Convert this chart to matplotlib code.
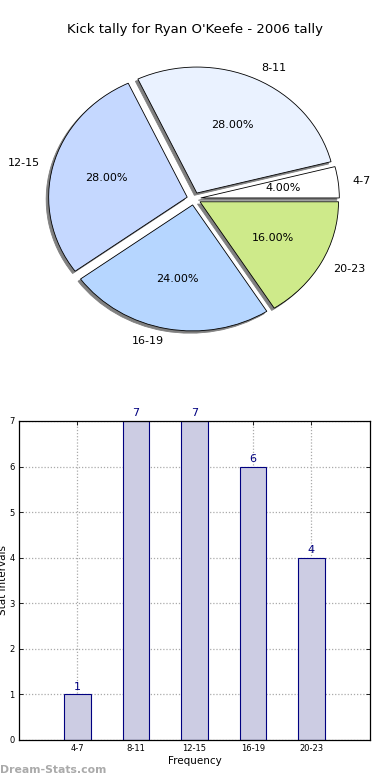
import matplotlib
matplotlib.use("Agg")
from matplotlib import pyplot as plt

# data
categories = ["4-7", "8-11", "12-15", "16-19", "20-23"]
counts = [1, 7, 7, 6, 4]
pie_colors = ["#ffffff", "#eaf2ff", "#c5d8ff", "#b6d6ff", "#ceea8a"]
y_ticks = [0, 1, 2, 3, 4, 5, 6, 7]

fig = plt.figure(figsize=(3.9, 7.8), dpi=100)

# pie on top - old style, not forced round
ax1 = fig.add_axes([0.0532, 0.5433, 0.888, 0.4038])
wedges, texts, autotexts = ax1.pie(
    counts, labels=categories, colors=pie_colors, explode=[0.05] * len(counts),
    autopct="%1.2f%%", shadow={"ox": -0.013, "oy": -0.013, "facecolor": "#808080",
                               "edgecolor": "#808080", "alpha": 1},
    startangle=0, counterclock=True, frame=False,
    wedgeprops={"edgecolor": "black", "linewidth": 0.6},
    textprops={"fontsize": 8})
ax1.set_aspect("auto")
ax1.set_xlim(-1.25, 1.25)
ax1.set_ylim(-1.25, 1.25)
ax1.axis("off")
fig.text(0.5, 0.962, "Kick tally for Ryan O'Keefe - 2006 tally", ha="center",
         va="center", fontsize=9.5)

# bar chart below
ax2 = fig.add_axes([0.0487, 0.0513, 0.9, 0.409])
x = list(range(len(categories)))
ax2.bar(x, counts, width=0.46, color="#cccce3", edgecolor="#000080", linewidth=0.8,
        zorder=2)
for xi, c in zip(x, counts):
    ax2.text(xi, c + 0.06, str(c), ha="center", va="bottom", color="#000080",
             fontsize=8)
ax2.set_xlim(-1, 5)
ax2.set_ylim(0, 7)
ax2.set_xticks(x)
ax2.set_xticklabels(categories)
ax2.set_yticks(y_ticks)
ax2.tick_params(axis="both", direction="in", labelsize=6, top=True, right=True,
                length=3, width=0.6, pad=3)
ax2.grid(True, linestyle=(0, (1, 1.5)), color="#aaaaaa", linewidth=0.9, zorder=0)
ax2.set_axisbelow(True)
ax2.set_xlabel("Frequency", fontsize=7.5, labelpad=2)
ax2.set_ylabel("Stat Intervals", fontsize=7.5)
ax2.yaxis.set_label_coords(-0.03, 0.5)
for s in ax2.spines.values():
    s.set_linewidth(0.9)

fig.text(0.0, 0.0125, "Dream-Stats.com", ha="left", va="center", fontsize=7.8,
         color="#aaaaaa", fontweight="bold")

plt.savefig("out.png", dpi=100)
